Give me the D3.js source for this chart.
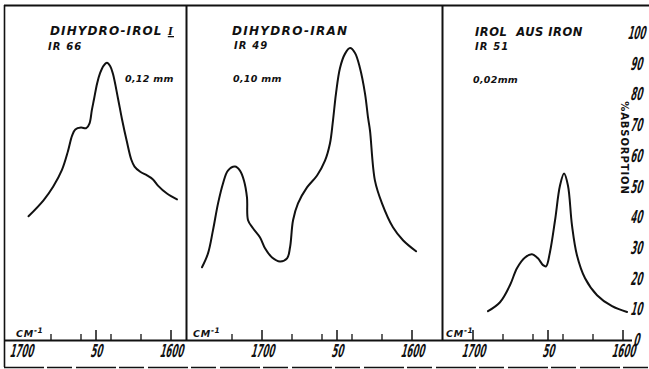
<!DOCTYPE html>
<html><head><meta charset="utf-8">
<script src="https://cdn.jsdelivr.net/npm/d3@7"></script>
<style>
html,body{margin:0;padding:0;background:#fff;}
svg{display:block;}
</style></head><body>
<svg id="chart" width="649" height="369"></svg>
<script>
// Infrared spectra, % absorption against wavenumber (cm^-1)

// Dihydro-irol I  (IR 66, 0,12 mm)
const irolWn  = [1695,1685,1678.5,1672.7,1668.7,1666,1663.8,1660,1656.5,1654.3,1652.8,1651.3,1649.3,1647.3,1645,1642.7,1640.5,1638.7,1635.3,1632.7,1629.5,1626.5,1624.3,1620.5,1616,1612,1608.7,1602.7,1596];
const irolAbs = [40.3,45.5,50,55.4,61.5,66.5,68.6,69.2,69,70.6,74.8,78.5,83.5,86.9,89.3,90.3,89.2,86.7,78.6,72,64.8,58.8,56.5,54.8,53.6,52.3,50.3,47.7,45.8];

// Dihydro-iran  (IR 49, 0,10 mm)
const iranWn  = [1740,1736,1732.7,1729.3,1726,1722.7,1718,1714.7,1712,1710,1709.3,1706,1701.3,1698,1693.3,1688,1683.3,1681.3,1679.3,1676,1670,1663.3,1658,1654.7,1652.7,1650.7,1648,1644.7,1641.3,1638,1634.7,1631.3,1629.3,1628,1624.7,1620,1612.7,1606,1597.3];
const iranAbs = [23.7,28.2,35.7,44.5,51,55.2,56.5,55.2,51.9,46.4,39,36.4,33.4,29.9,26.9,25.6,26.6,30.2,39,44.5,49.7,53.6,58.4,64,71.4,80.2,88.6,93.2,95.1,93.5,88.6,80.2,72.4,68.2,51.9,44.5,36.7,32.5,28.9];

// Irol aus Iron  (IR 51, 0,02 mm)
const ironWn  = [1690,1682,1675.3,1670.7,1665.3,1660.7,1656.7,1653.3,1651.3,1648.7,1645.3,1642,1639.3,1636.7,1634,1630.7,1625.3,1617.3,1607.3,1597.3];
const ironAbs = [9.4,12.3,17.9,23.4,26.9,27.9,26.6,24.4,24,28.6,39,50.3,54.2,50.3,37.3,27.6,20.1,14.6,11,9.1];

// Axis ticks and labels
const majorTicks = [1700, 1650, 1600];
const minorTicks = [1720, 1680, 1660, 1640, 1620];
const xTickLabels = ["1700", "50", "1600"];
const yTicks = [0, 10, 20, 30, 40, 50, 60, 70, 80, 90, 100];

const titles = ["DIHYDRO-IROL", "DIHYDRO-IRAN", "IROL  AUS IRON"];
const codes = ["IR 66", "IR 49", "IR 51"];
const thickness = ["0,12 mm", "0,10 mm", "0,02mm"];

const svg = d3.select("#chart");
const INK = "#111";
const y = d3.scaleLinear().domain([0, 100]).range([340, 33]);

const panels = [
  {wn: irolWn, abs: irolAbs, range: [21, 171], left: 4, right: 186, title: [50, 35], tsize: 12, tspace: 1.1, code: [48, 50], thick: [125, 82], cm: 16},
  {wn: iranWn, abs: iranAbs, range: [262, 412], left: 186, right: 442, title: [232, 35], tsize: 12, tspace: 1.3, code: [234, 49], thick: [233, 82], cm: 193},
  {wn: ironWn, abs: ironAbs, range: [473, 623], left: 442, right: 627, title: [475, 36], tsize: 11.5, tspace: 0.5, code: [475, 50], thick: [473, 83], cm: 446}
];

// frame
const frame = svg.append("g").attr("stroke", INK).attr("fill", "none");
frame.append("line").attr("x1", 4).attr("x2", 649).attr("y1", 5.5).attr("y2", 5.5).attr("stroke-width", 2);
frame.append("line").attr("x1", 4.5).attr("x2", 4.5).attr("y1", 5).attr("y2", 367).attr("stroke-width", 1.6);
frame.append("line").attr("x1", 4).attr("x2", 649).attr("y1", 367.5).attr("y2", 367.5).attr("stroke-width", 1.4).attr("stroke-dasharray", "40,3,25,4");
frame.append("line").attr("x1", 186.5).attr("x2", 186.5).attr("y1", 5).attr("y2", 340).attr("stroke-width", 2);
frame.append("line").attr("x1", 442.5).attr("x2", 442.5).attr("y1", 5).attr("y2", 340).attr("stroke-width", 2);
frame.append("line").attr("x1", 4).attr("x2", 632).attr("y1", 340.5).attr("y2", 340.5).attr("stroke-width", 2);

// condensed, slanted numerals
function numeral(g, x, yy, txt, anchor) {
  g.append("g")
    .attr("transform", `translate(${x},${yy}) skewX(-14) scale(0.47,1)`)
    .append("text")
    .attr("text-anchor", anchor || "middle")
    .attr("font-family", "DejaVu Sans, sans-serif")
    .attr("font-weight", "bold")
    .attr("font-size", 18)
    .attr("fill", INK)
    .text(txt);
}

const lettering = {family: "DejaVu Sans, sans-serif", style: "italic", weight: "bold"};

panels.forEach((p, i) => {
  const x = d3.scaleLinear().domain([1700, 1600]).range(p.range);
  const g = svg.append("g");
  // ticks stay inside the panel and clear of the unit label
  const inPanel = t => x(t) > p.cm + 25 && x(t) < p.right + 2;

  // ticks
  g.selectAll(".maj").data(majorTicks.filter(inPanel)).join("line")
    .attr("x1", d => x(d)).attr("x2", d => x(d))
    .attr("y1", 340).attr("y2", 330)
    .attr("stroke", INK).attr("stroke-width", 1.5);
  g.selectAll(".min").data(minorTicks.filter(inPanel)).join("line")
    .attr("x1", d => x(d)).attr("x2", d => x(d))
    .attr("y1", 340).attr("y2", 334)
    .attr("stroke", INK).attr("stroke-width", 1.3);

  majorTicks.forEach((t, k) => numeral(g, x(t), 357, xTickLabels[k]));

  // spectrum
  const line = d3.line()
    .x((d, k) => x(p.wn[k]))
    .y(d => y(d))
    .curve(d3.curveCatmullRom.alpha(0.5));
  g.append("path")
    .attr("d", line(p.abs))
    .attr("fill", "none")
    .attr("stroke", INK)
    .attr("stroke-width", 2)
    .attr("stroke-linejoin", "round")
    .attr("stroke-linecap", "round");

  // captions
  const title = g.append("text")
    .attr("x", p.title[0]).attr("y", p.title[1])
    .attr("font-family", lettering.family).attr("font-style", lettering.style)
    .attr("font-weight", lettering.weight).attr("font-size", p.tsize)
    .attr("letter-spacing", p.tspace).attr("fill", INK)
    .style("white-space", "pre")
    .text(titles[i]);
  if (i === 0) {
    title.append("tspan").text(" ");
    title.append("tspan")
      .attr("font-family", "Liberation Serif, serif")
      .attr("font-size", 13)
      .style("text-decoration", "underline")
      .text("I");
  }
  g.append("text")
    .attr("x", p.code[0]).attr("y", p.code[1])
    .attr("font-family", lettering.family).attr("font-style", lettering.style)
    .attr("font-weight", lettering.weight).attr("font-size", 10)
    .attr("letter-spacing", 1.1).attr("fill", INK)
    .style("white-space", "pre")
    .text(codes[i]);
  g.append("text")
    .attr("x", p.thick[0]).attr("y", p.thick[1])
    .attr("font-family", lettering.family).attr("font-style", lettering.style)
    .attr("font-weight", lettering.weight).attr("font-size", 9.5)
    .attr("letter-spacing", 0.3).attr("fill", INK)
    .style("white-space", "pre")
    .text(thickness[i]);

  // unit
  const cm = g.append("text")
    .attr("x", p.cm).attr("y", 337)
    .attr("font-family", lettering.family).attr("font-style", lettering.style)
    .attr("font-weight", lettering.weight).attr("font-size", 9.5)
    .attr("letter-spacing", 0.8)
    .attr("fill", INK)
    .text("CM");
  cm.append("tspan").attr("dy", -4).attr("font-size", 7.5).attr("letter-spacing", 0.4).text("-1");
});

// right-hand absorption scale
const ax = svg.append("g");
yTicks.forEach(v => numeral(ax, 636, y(v) + 6, String(v)));
ax.append("text")
  .attr("transform", "translate(621,148) rotate(90)")
  .attr("text-anchor", "middle")
  .attr("font-family", "DejaVu Sans, sans-serif")
  .attr("font-weight", "bold")
  .attr("font-size", 10)
  .attr("letter-spacing", 0.9)
  .attr("fill", INK)
  .text("%ABSORPTION");
</script>
</body></html>
